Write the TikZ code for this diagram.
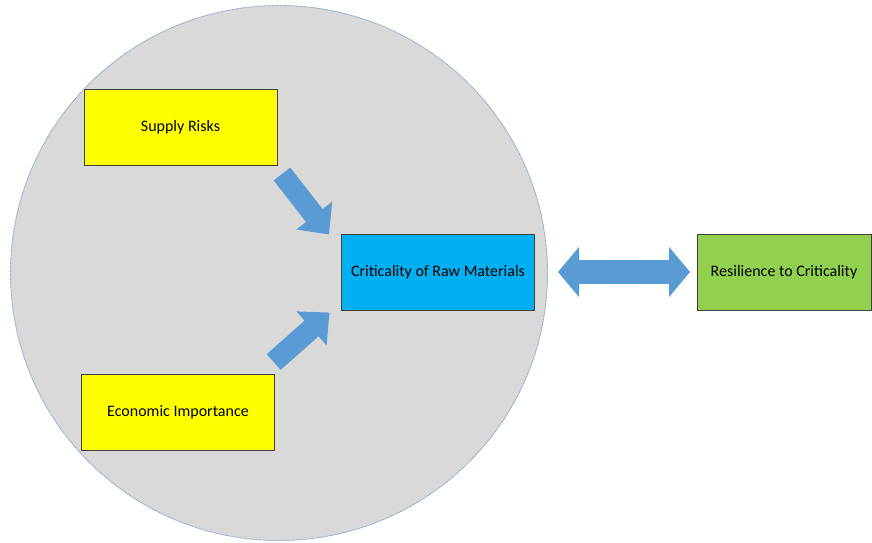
\documentclass[tikz,border=0pt]{standalone}
\usepackage{fontspec}
\setmainfont{Carlito}
\usetikzlibrary{arrows.meta,shapes.geometric}
\definecolor{circfill}{HTML}{D9D9D9}
\definecolor{circline}{HTML}{8EA9C4}
\definecolor{ybox}{HTML}{FFFF00}
\definecolor{bbox}{HTML}{00B0F0}
\definecolor{gbox}{HTML}{92D050}
\definecolor{arrblue}{HTML}{5B9BD5}
\definecolor{boxline}{HTML}{404040}
\tikzset{
  boxstyle/.style={draw=boxline, line width=0.9pt, minimum width=193pt, minimum height=76pt, inner sep=0pt, font=\fontsize{16}{18}\selectfont, text=black},
  blockarrow/.style={draw=arrblue, line width=21pt, -{Triangle[width=44pt,length=24pt]}},
  dblarrow/.style={draw=arrblue, line width=24pt, {Triangle[width=49pt,length=21pt]}-{Triangle[width=49pt,length=21pt]}},
}
\begin{document}
\begin{tikzpicture}[x=1pt,y=-1pt]
\useasboundingbox (0,0) rectangle (872,542);
\fill[white] (0,0) rectangle (872,542);
% circle
\node[ellipse, draw=circline, fill=circfill, dash pattern=on 1pt off 0.6pt, line width=0.9pt,
      minimum width=537pt, minimum height=535pt, inner sep=0pt] (circ) at (279,273) {};
% boxes
\node[boxstyle, fill=ybox] (sr) at (180.5,127) {Supply Risks};
\node[boxstyle, fill=ybox] (ei) at (178,412) {Economic Importance};
\node[boxstyle, fill=bbox] (cr) at (438,272) {Criticality of Raw Materials};
\node[boxstyle, fill=gbox, minimum width=174pt] (rc) at (784,272) {Resilience to Criticality};
% arrows
\coordinate (srt) at (282,174);
\coordinate (srh) at (329,234.5);
\coordinate (eit) at (273.7,362);
\coordinate (eih) at (329.5,312.5);
\draw[blockarrow] (srt) -- (srh);
\draw[blockarrow] (eit) -- (eih);
\coordinate (dl) at (558,272);
\coordinate (dr) at (690,272);
\draw[dblarrow] (dl) -- (dr);
\end{tikzpicture}
\end{document}
